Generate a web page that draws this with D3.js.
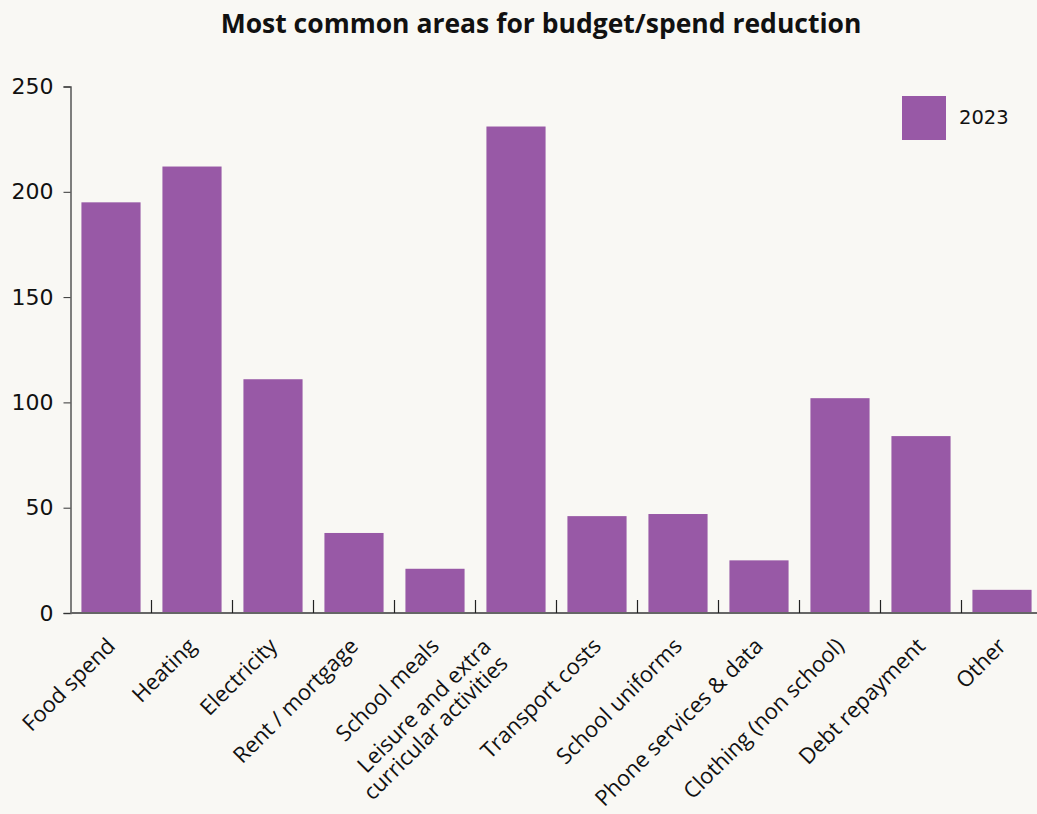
<!DOCTYPE html>
<html>
<head>
<meta charset="utf-8">
<script src="https://cdn.jsdelivr.net/npm/d3@7"></script>
<style>
  html, body { margin: 0; padding: 0; background: #f9f8f4; }
  svg { display: block; }
  text { font-family: "Open Sans", "Noto Sans", sans-serif; fill: #111; }
</style>
</head>
<body>
<svg id="chart" width="1037" height="814"></svg>
<script>
// Number of respondents reducing spend in each area, 2023
const categories = [
  "Food spend", "Heating", "Electricity", "Rent / mortgage", "School meals",
  "Leisure and extra\ncurricular activities", "Transport costs", "School uniforms",
  "Phone services & data", "Clothing (non school)", "Debt repayment", "Other"
];
const values2023 = [195, 212, 111, 38, 21, 231, 46, 47, 25, 102, 84, 11];
const yTicks = [0, 50, 100, 150, 200, 250];
const seriesName = "2023";

const barColor = "#9859a6";
const numberFont = "'DejaVu Sans', sans-serif";
const svg = d3.select("#chart");

const plotLeft = 70.5, plotRight = 1042.5, plotTop = 86.5, plotBottom = 613;

const x = d3.scaleBand()
  .domain(categories)
  .range([plotLeft, plotRight])
  .paddingInner(0.27)
  .paddingOuter(0.135);

const y = d3.scaleLinear().domain([0, 250]).range([plotBottom, plotTop]);

// Title
svg.append("text")
  .attr("x", 541).attr("y", 33)
  .attr("text-anchor", "middle")
  .style("font-size", "26.5px").style("font-weight", "700")
  .text("Most common areas for budget/spend reduction");

// Bars
svg.append("g").selectAll("rect")
  .data(categories.map((c, i) => ({ c, v: values2023[i] })))
  .join("rect")
  .attr("x", d => x(d.c))
  .attr("width", x.bandwidth())
  .attr("y", d => y(d.v))
  .attr("height", d => y(0) - y(d.v))
  .attr("fill", barColor);

// Y axis
const yAxis = svg.append("g")
  .attr("transform", `translate(${plotLeft},0)`)
  .call(d3.axisLeft(y).tickValues(yTicks).tickSize(7).tickPadding(10));
yAxis.select(".domain").attr("stroke", "#555").attr("stroke-width", 1.5);
yAxis.selectAll(".tick line").attr("stroke", "#333");
yAxis.selectAll(".tick text")
  .style("font-size", "22px").style("font-family", numberFont).attr("fill", "#111");

// X axis baseline
svg.append("line")
  .attr("x1", plotLeft).attr("x2", 1037)
  .attr("y1", plotBottom).attr("y2", plotBottom)
  .attr("stroke", "#666").attr("stroke-width", 2);

// Band separators rising from the baseline
const step = x.step();
svg.append("g").selectAll("line")
  .data(d3.range(1, categories.length))
  .join("line")
  .attr("x1", i => plotLeft + i * step).attr("x2", i => plotLeft + i * step)
  .attr("y1", plotBottom).attr("y2", plotBottom - 13)
  .attr("stroke", "#222").attr("stroke-width", 1.2);

// Category labels, rotated; two-line labels are stacked and nudged back
const labels = svg.append("g").selectAll("text")
  .data(categories)
  .join("text")
  .attr("text-anchor", "end")
  .attr("transform", d => `translate(${x(d) + x.bandwidth() / 2},${plotBottom + 29}) rotate(-45)`)
  .style("font-size", "22px");
labels.each(function(d) {
  const lines = d.split("\n");
  const t = d3.select(this);
  const multi = lines.length > 1;
  lines.forEach((ln, k) => {
    t.append("tspan")
      .attr("x", multi ? -21 : 0)
      .attr("y", multi ? (k === 0 ? -20 : 3.5) : 0)
      .attr("dy", "0.35em")
      .text(ln);
  });
});

// Legend
const legend = svg.append("g").attr("transform", "translate(902,96)");
legend.append("rect").attr("width", 44).attr("height", 44).attr("fill", barColor);
legend.append("text").attr("x", 57).attr("y", 28)
  .style("font-size", "19.5px").style("font-family", numberFont).text(seriesName);
</script>
</body>
</html>
